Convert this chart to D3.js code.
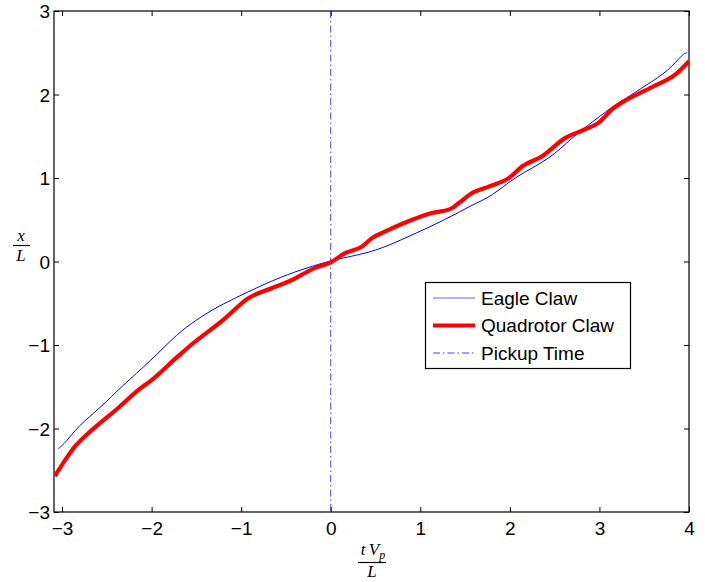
<!DOCTYPE html>
<html>
<head>
<meta charset="utf-8">
<script src="https://cdn.jsdelivr.net/npm/d3@7"></script>
<style>
  html, body { margin: 0; padding: 0; background: #fff; }
  svg { display: block; }
  .tick text { font-family: "Liberation Sans", Arial, Helvetica, sans-serif; }
</style>
</head>
<body>
<svg id="chart" width="705" height="582"></svg>
<script>
// Normalised time tV_p/L and position x/L for each claw
const eagleT = [-3.04, -2.96, -2.83, -2.56, -2.34, -2.00, -1.71, -1.50, -1.30, -0.92, -0.55, -0.25, -0.03,
  0.12, 0.50, 0.87, 1.28, 1.58, 1.80, 2.06, 2.44, 2.70, 2.92, 3.14, 3.26, 3.52, 3.78, 3.93, 3.98];
const eagleX = [-2.24, -2.17, -1.98, -1.74, -1.50, -1.18, -0.86, -0.70, -0.56, -0.36, -0.18, -0.07, 0.00,
  0.04, 0.12, 0.30, 0.50, 0.68, 0.78, 1.02, 1.22, 1.49, 1.67, 1.85, 1.93, 2.11, 2.29, 2.49, 2.50];

const quadT = [-3.08, -2.96, -2.86, -2.71, -2.38, -2.15, -2.00, -1.71, -1.56, -1.20, -0.92, -0.66, -0.47,
  -0.18, 0.00, 0.16, 0.35, 0.46, 0.61, 0.91, 1.13, 1.34, 1.43, 1.58, 1.77, 1.99, 2.14, 2.36, 2.62,
  2.81, 3.00, 3.15, 3.26, 3.59, 3.86, 4.00];
const quadX = [-2.57, -2.37, -2.22, -2.06, -1.76, -1.54, -1.42, -1.14, -1.00, -0.70, -0.44, -0.32, -0.24,
  -0.08, -0.01, 0.10, 0.18, 0.28, 0.36, 0.50, 0.58, 0.63, 0.70, 0.82, 0.90, 1.00, 1.14, 1.26, 1.48,
  1.57, 1.67, 1.83, 1.91, 2.09, 2.25, 2.40];

const pickupTime = 0;
const xTicks = [-3, -2, -1, 0, 1, 2, 3, 4];
const yTicks = [-3, -2, -1, 0, 1, 2, 3];
const legendLabels = ["Eagle Claw", "Quadrotor Claw", "Pickup Time"];

const svg = d3.select("#chart");
const plotLeft = 54, plotRight = 689, plotTop = 11, plotBottom = 512;
const sans = "'Liberation Sans', Arial, Helvetica, sans-serif";
const labelSize = 19;

const x = d3.scaleLinear().domain([-3.09, 4]).range([plotLeft, plotRight]);
const y = d3.scaleLinear().domain([-3, 3]).range([plotBottom, plotTop]);

svg.append("defs").append("clipPath").attr("id", "plotClip")
  .append("rect").attr("x", plotLeft).attr("y", plotTop)
  .attr("width", plotRight - plotLeft).attr("height", plotBottom - plotTop);

const fmt = d => d < 0 ? "\u2212" + Math.abs(d) : String(d);
const tickLen = 5;

// Axes with inward ticks on all four sides
const axB = svg.append("g").attr("transform", `translate(0,${plotBottom})`)
  .call(d3.axisBottom(x).tickValues(xTicks).tickFormat(fmt).tickSizeInner(-tickLen).tickSizeOuter(0).tickPadding(10));
const axT = svg.append("g").attr("transform", `translate(0,${plotTop})`)
  .call(d3.axisTop(x).tickValues(xTicks).tickFormat("").tickSizeInner(-tickLen).tickSizeOuter(0));
const axL = svg.append("g").attr("transform", `translate(${plotLeft},0)`)
  .call(d3.axisLeft(y).tickValues(yTicks).tickFormat(fmt).tickSizeInner(-tickLen).tickSizeOuter(0).tickPadding(4));
const axR = svg.append("g").attr("transform", `translate(${plotRight},0)`)
  .call(d3.axisRight(y).tickValues(yTicks).tickFormat("").tickSizeInner(-tickLen).tickSizeOuter(0));

[axB, axT, axL, axR].forEach(a => {
  a.select(".domain").remove();
  a.selectAll(".tick line").attr("stroke", "#000").attr("stroke-width", 1);
  a.selectAll(".tick text").attr("fill", "#000").attr("font-size", labelSize);
});
axL.selectAll(".tick text").attr("dy", "0.36em");

svg.append("rect").attr("x", plotLeft).attr("y", plotTop)
  .attr("width", plotRight - plotLeft).attr("height", plotBottom - plotTop)
  .attr("fill", "none").attr("stroke", "#000").attr("stroke-width", 1.2);

const plot = svg.append("g").attr("clip-path", "url(#plotClip)");

// Pickup time marker
plot.append("line")
  .attr("x1", x(pickupTime)).attr("x2", x(pickupTime))
  .attr("y1", y(3)).attr("y2", y(-3))
  .attr("stroke", "#0000ff").attr("stroke-width", 1).attr("stroke-opacity", 0.75)
  .attr("stroke-dasharray", "7,3,1.5,3");

const smoothLine = d3.line().x(d => x(d[0])).y(d => y(d[1])).curve(d3.curveBasis);
const line = d3.line().x(d => x(d[0])).y(d => y(d[1])).curve(d3.curveMonotoneX);

plot.append("path").datum(eagleT.map((t, i) => [t, eagleX[i]]))
  .attr("d", smoothLine).attr("fill", "none").attr("stroke", "#0000ff").attr("stroke-width", 1);

plot.append("path").datum(quadT.map((t, i) => [t, quadX[i]]))
  .attr("d", line).attr("fill", "none").attr("stroke", "#ff0000").attr("stroke-width", 4.2)
  .attr("stroke-linejoin", "round");

// Legend
const lg = svg.append("g");
lg.append("rect").attr("x", 425.5).attr("y", 282.5).attr("width", 205).attr("height", 86)
  .attr("fill", "#fff").attr("stroke", "#000").attr("stroke-width", 1.2);
const styles = [
  { stroke: "#0000ff", width: 1, dash: null, op: 0.6 },
  { stroke: "#ff0000", width: 4.2, dash: null, op: 1 },
  { stroke: "#0000ff", width: 1, dash: "7,3,1.5,3", op: 0.75 }
];
legendLabels.forEach((lab, i) => {
  const cy = 298 + i * 27.5;
  lg.append("line").attr("x1", 433).attr("x2", 475).attr("y1", cy).attr("y2", cy)
    .attr("stroke", styles[i].stroke).attr("stroke-width", styles[i].width)
    .attr("stroke-opacity", styles[i].op)
    .attr("stroke-dasharray", styles[i].dash);
  lg.append("text").attr("x", 481).attr("y", cy).attr("dy", "0.36em")
    .attr("font-family", sans).attr("font-size", labelSize).attr("fill", "#000").text(lab);
});

// Axis labels as stacked fractions
const serif = "'Liberation Serif', 'DejaVu Serif', serif";
const xl = svg.append("g");
const num = xl.append("text").attr("x", 373).attr("y", 555).attr("text-anchor", "middle")
  .attr("font-family", serif).attr("font-style", "italic").attr("font-size", 17).attr("fill", "#000");
num.append("tspan").text("t\u2009V");
num.append("tspan").attr("font-size", 12).attr("dy", 4).text("p");
xl.append("line").attr("x1", 358).attr("x2", 386).attr("y1", 562.5).attr("y2", 562.5)
  .attr("stroke", "#000").attr("stroke-width", 1.2);
xl.append("text").attr("x", 372).attr("y", 577).attr("text-anchor", "middle")
  .attr("font-family", serif).attr("font-style", "italic").attr("font-size", 17).attr("fill", "#000").text("L");

const yl = svg.append("g");
yl.append("text").attr("x", 21).attr("y", 241).attr("text-anchor", "middle")
  .attr("font-family", serif).attr("font-style", "italic").attr("font-size", 17).attr("fill", "#000").text("x");
yl.append("line").attr("x1", 13).attr("x2", 30).attr("y1", 245.5).attr("y2", 245.5)
  .attr("stroke", "#000").attr("stroke-width", 1.2);
yl.append("text").attr("x", 21).attr("y", 261).attr("text-anchor", "middle")
  .attr("font-family", serif).attr("font-style", "italic").attr("font-size", 17).attr("fill", "#000").text("L");
</script>
</body>
</html>
